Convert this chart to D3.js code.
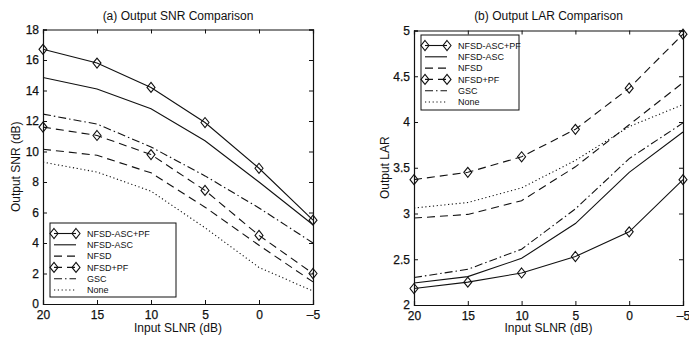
<!DOCTYPE html>
<html><head><meta charset="utf-8">
<script src="https://cdn.jsdelivr.net/npm/d3@7"></script>
<style>
body{margin:0;background:#fff;}
svg text{font-family:"Liberation Sans",Arial,Helvetica,sans-serif;fill:#111;}
</style>
</head><body>
<svg id="chart" width="689" height="342"></svg>
<script>
const inputSLNR = [20, 15, 10, 5, 0, -5];
const seriesNames = ["NFSD-ASC+PF", "NFSD-ASC", "NFSD", "NFSD+PF", "GSC", "None"];

const snrNFSD_ASC_PF = [16.7, 15.8, 14.2, 11.9, 8.9, 5.5];
const snrNFSD_ASC    = [14.85, 14.1, 12.8, 10.7, 8.0, 5.2];
const snrNFSD        = [10.15, 9.75, 8.6, 6.35, 3.85, 1.45];
const snrNFSD_PF     = [11.6, 11.05, 9.8, 7.45, 4.5, 2.0];
const snrGSC         = [12.45, 11.8, 10.3, 8.4, 6.3, 4.0];
const snrNone        = [9.3, 8.65, 7.4, 5.0, 2.4, 0.85];

const larNFSD_ASC_PF = [2.18, 2.25, 2.35, 2.53, 2.8, 3.37];
const larNFSD_ASC    = [2.24, 2.31, 2.51, 2.89, 3.45, 3.89];
const larNFSD        = [2.95, 2.99, 3.14, 3.51, 3.97, 4.43];
const larNFSD_PF     = [3.37, 3.45, 3.62, 3.92, 4.37, 4.96];
const larGSC         = [2.30, 2.39, 2.61, 3.05, 3.6, 3.99];
const larNone        = [3.06, 3.12, 3.28, 3.58, 3.95, 4.19];

const xTicks = [20, 15, 10, 5, 0, -5];
const snrTicks = [0, 2, 4, 6, 8, 10, 12, 14, 16, 18];
const larTicks = [2, 2.5, 3, 3.5, 4, 4.5, 5];

const styles = {
  "NFSD-ASC+PF": {dash: null, marker: true},
  "NFSD-ASC": {dash: null, marker: false},
  "NFSD": {dash: "8,5", marker: false},
  "NFSD+PF": {dash: "8,5", marker: true},
  "GSC": {dash: "8,3,1.5,3", marker: false},
  "None": {dash: "1.2,2.6", marker: false}
};

const svg = d3.select("#chart");
const diamond = "M0,-5L4,0L0,5L-4,0Z";

function panel(cfg) {
  const {left, right, top, bottom, yDomain, yTicks, series, title, ylabel, legend} = cfg;
  const x = d3.scaleLinear().domain([20, -5]).range([left, right]);
  const y = d3.scaleLinear().domain(yDomain).range([bottom, top]);
  const g = svg.append("g");

  const fmtY = d3.format("~g");
  const axB = g.append("g").attr("transform", `translate(0,${bottom})`)
    .call(d3.axisBottom(x).tickValues(xTicks).tickSize(-4).tickPadding(6).tickFormat(d => d < 0 ? "\u2013" + (-d) : d));
  const axT = g.append("g").attr("transform", `translate(0,${top})`)
    .call(d3.axisTop(x).tickValues(xTicks).tickSize(-4).tickFormat(""));
  const axL = g.append("g").attr("transform", `translate(${left},0)`)
    .call(d3.axisLeft(y).tickValues(yTicks).tickSize(-4).tickPadding(4).tickFormat(fmtY));
  const axR = g.append("g").attr("transform", `translate(${right},0)`)
    .call(d3.axisRight(y).tickValues(yTicks).tickSize(-4).tickFormat(""));
  [axB, axT, axL, axR].forEach(a => {
    a.select(".domain").attr("stroke", "#111").attr("stroke-width", 1.2);
    a.selectAll(".tick line").attr("stroke", "#111");
    a.selectAll("text").attr("font-size", 12).attr("fill", "#111")
      .attr("stroke", "#111").attr("stroke-width", 0.25)
      .attr("font-family", '"Liberation Sans",Arial,sans-serif');
  });

  const line = d3.line().x((d, i) => x(inputSLNR[i])).y(d => y(d));
  series.forEach(s => {
    const st = styles[s.name];
    g.append("path").datum(s.values).attr("d", line)
      .attr("fill", "none").attr("stroke", "#111").attr("stroke-width", 1.1)
      .attr("stroke-dasharray", st.dash);
    if (st.marker) {
      g.selectAll(null).data(s.values).enter().append("path")
        .attr("d", diamond)
        .attr("transform", (d, i) => `translate(${x(inputSLNR[i])},${y(d)})`)
        .attr("fill", "none").attr("stroke", "#111").attr("stroke-width", 1.1);
    }
  });

  g.append("text").attr("x", (left + right) / 2).attr("y", 20)
    .attr("text-anchor", "middle").attr("font-size", 12).text(title);
  g.append("text").attr("x", (left + right) / 2).attr("y", 332)
    .attr("text-anchor", "middle").attr("font-size", 12).text("Input SLNR (dB)");
  g.append("text").attr("transform", `translate(${cfg.ylabelX},${(top + bottom) / 2}) rotate(-90)`)
    .attr("text-anchor", "middle").attr("font-size", 12).text(ylabel);

  // legend
  const lg = g.append("g");
  lg.append("rect").attr("x", legend.x).attr("y", legend.y).attr("width", legend.w).attr("height", legend.h)
    .attr("fill", "#fff").attr("stroke", "#111").attr("stroke-width", 1);
  seriesNames.forEach((n, i) => {
    const st = styles[n];
    const yy = legend.y + 10.5 + i * 11.3;
    const x0 = legend.x + 4, x1 = legend.x + 26;
    lg.append("line").attr("x1", x0).attr("x2", x1).attr("y1", yy).attr("y2", yy)
      .attr("stroke", "#111").attr("stroke-width", 1.1).attr("stroke-dasharray", st.dash);
    if (st.marker) {
      [x0, x1].forEach(xx => lg.append("path").attr("d", diamond)
        .attr("transform", `translate(${xx},${yy})`).attr("fill", "none").attr("stroke", "#111").attr("stroke-width", 1.1));
    }
    lg.append("text").attr("x", legend.x + 37).attr("y", yy + 3.3).attr("font-size", 9).text(n);
  });
}

panel({
  left: 43, right: 313, top: 29.5, bottom: 304,
  yDomain: [0, 18], yTicks: snrTicks,
  title: "(a) Output SNR Comparison", ylabel: "Output SNR (dB)", ylabelX: 20,
  legend: {x: 50, y: 223, w: 126, h: 74},
  series: [
    {name: "NFSD-ASC+PF", values: snrNFSD_ASC_PF},
    {name: "NFSD-ASC", values: snrNFSD_ASC},
    {name: "NFSD", values: snrNFSD},
    {name: "NFSD+PF", values: snrNFSD_PF},
    {name: "GSC", values: snrGSC},
    {name: "None", values: snrNone}
  ]
});

panel({
  left: 414, right: 683, top: 30.5, bottom: 305,
  yDomain: [2, 5], yTicks: larTicks,
  title: "(b) Output LAR Comparison", ylabel: "Output LAR", ylabelX: 389,
  legend: {x: 421, y: 35, w: 98, h: 75},
  series: [
    {name: "NFSD-ASC+PF", values: larNFSD_ASC_PF},
    {name: "NFSD-ASC", values: larNFSD_ASC},
    {name: "NFSD", values: larNFSD},
    {name: "NFSD+PF", values: larNFSD_PF},
    {name: "GSC", values: larGSC},
    {name: "None", values: larNone}
  ]
});
</script>
</body></html>
